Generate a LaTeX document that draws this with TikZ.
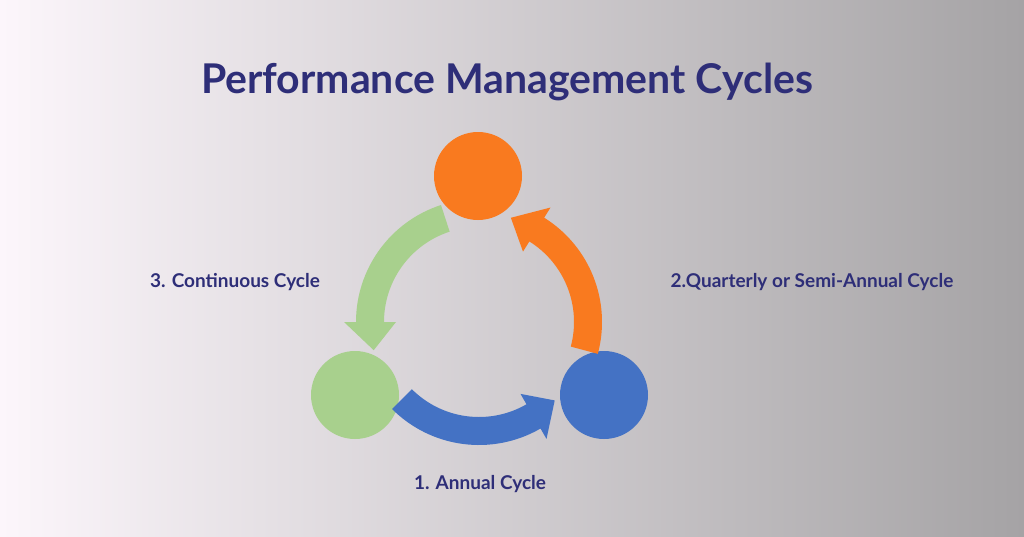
\documentclass[tikz,border=0pt]{standalone}
\usepackage{fontspec}
\setmainfont{Lato}
\definecolor{navy}{HTML}{2E2E78}
\definecolor{corange}{HTML}{F97A1F}
\definecolor{cgreen}{HTML}{A8D08D}
\definecolor{cblue}{HTML}{4472C4}
\tikzset{dot/.style={circle,minimum size=88pt,inner sep=0pt},
lab/.style={text=navy,font=\fontsize{19}{22}\selectfont\bfseries}}
\begin{document}
\begin{tikzpicture}[x=1pt,y=-1pt]
\shade[left color={rgb,255:red,252;green,246;blue,251},right color={rgb,255:red,165;green,163;blue,165}] (0,0) rectangle (1024,536);
\useasboundingbox (0,0) rectangle (1024,536);
\node[text=navy,font=\fontsize{41}{48}\selectfont\bfseries] (title) at (507,82) {Performance Management Cycles};
\node[dot,fill=corange] (top) at (478,176) {};
\node[dot,fill=cgreen] (left) at (355,395) {};
\node[dot,fill=cblue] (right) at (604,395) {};
\begin{scope}[shift={(479,322)}]
\fill[cblue] (135:123) arc[start angle=135,end angle=60,radius=123] -- (60:135) -- (46:109) -- (60:83) -- (60:95) arc[start angle=60,end angle=135,radius=95] -- cycle;
\fill[cgreen] (252:123) arc[start angle=252,end angle=180,radius=123] -- (180:135) -- (165:109) -- (180:83) -- (180:95) arc[start angle=180,end angle=252,radius=95] -- cycle;
\fill[corange] (15:123) arc[start angle=15,end angle=-58,radius=123] -- (-58:135) -- (-73:109) -- (-58:83) -- (-58:95) arc[start angle=-58,end angle=15,radius=95] -- cycle;
\end{scope}
\node[lab] (l3) at (235,282) {3. Continuous Cycle};
\node[lab] (l2) at (812,282) {2.Quarterly or Semi-Annual Cycle};
\node[lab] (l1) at (480,484) {1. Annual Cycle};
\end{tikzpicture}
\end{document}
